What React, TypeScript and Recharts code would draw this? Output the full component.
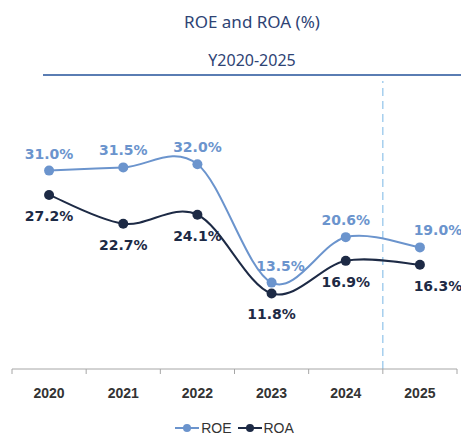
import React from 'react';
import { LineChart, Line, XAxis, YAxis, ReferenceLine, LabelList, Legend } from 'recharts';

const years = ['2020', '2021', '2022', '2023', '2024', '2025'];
const roe = [31.0, 31.5, 32.0, 13.5, 20.6, 19.0];
const roa = [27.2, 22.7, 24.1, 11.8, 16.9, 16.3];

const data = years.map((year, i) => ({ year, roe: roe[i], roa: roa[i] }));

const W = 461;
const H = 439;
const M = { top: 81, right: 4, left: 12, bottom: 0 };
const BAND = (W - M.left - M.right) / years.length;

const ROE_COLOR = '#6b94cd';
const ROA_COLOR = '#1d2a45';
const TITLE_FONT = "'Noto Sans', 'Open Sans', sans-serif";

// Excel-like smoothing (Catmull-Rom through the points)
const smoothCurve = (context: any) => {
    let pts: number[][] = [];
    return {
        areaStart() {},
        areaEnd() {},
        lineStart() { pts = []; },
        point(x: number, y: number) { pts.push([+x, +y]); },
        lineEnd() {
            if (!pts.length) return;
            context.moveTo(pts[0][0], pts[0][1]);
            for (let i = 0; i < pts.length - 1; i++) {
                const p0 = pts[i - 1] || pts[i];
                const p1 = pts[i];
                const p2 = pts[i + 1];
                const p3 = pts[i + 2] || p2;
                context.bezierCurveTo(
                    p1[0] + (p2[0] - p0[0]) / 6, p1[1] + (p2[1] - p0[1]) / 6,
                    p2[0] - (p3[0] - p1[0]) / 6, p2[1] - (p3[1] - p1[1]) / 6,
                    p2[0], p2[1]
                );
            }
        },
    };
};

const YearTick = (props: any) => {
    const { x, y, payload, index } = props;
    const left = x - BAND / 2;
    return (
        <g>
            <line x1={left} y1={y} x2={left} y2={y + 5} stroke="#a6a6a6" />
            {index === years.length - 1 && <line x1={x + BAND / 2} y1={y} x2={x + BAND / 2} y2={y + 5} stroke="#a6a6a6" />}
            <text x={x} y={y + 29} textAnchor="middle" fill="#333" fontSize={14} fontWeight="bold" fontFamily="'Liberation Sans', Arial, sans-serif">
                {payload.value}
            </text>
        </g>
    );
};

// label nudges so text clears the lines, as in the original
const makeLabel = (color: string, above: boolean) => (props: any) => {
    const { x, y, value, index } = props;
    let dx = index === years.length - 1 ? 18 : 0;
    if (above && index === 3) dx = 9;
    return (
        <text
            x={x + dx}
            y={above ? y - 12 : y + 26}
            textAnchor="middle"
            fill={color}
            fontSize={14}
            fontWeight="bold"
            fontFamily="'DejaVu Sans', Verdana, sans-serif"
        >
            {value.toFixed(1)}%
        </text>
    );
};

const LegendContent = () => (
    <div style={{ display: 'flex', justifyContent: 'center', alignItems: 'center', gap: 6, paddingTop: 3, lineHeight: '16px', fontFamily: "'Liberation Sans', Arial, sans-serif", fontSize: 14, color: '#333' }}>
        {[{ name: 'ROE', color: ROE_COLOR }, { name: 'ROA', color: ROA_COLOR }].map((s) => (
            <span key={s.name} style={{ display: 'flex', alignItems: 'center', gap: 2 }}>
                <svg width={24} height={10}>
                    <line x1={0} y1={5} x2={24} y2={5} stroke={s.color} strokeWidth={2} />
                    <circle cx={12} cy={5} r={4} fill={s.color} />
                </svg>
                {s.name}
            </span>
        ))}
    </div>
);

export default function App() {
    return (
        <div style={{ position: 'absolute', left: 0, top: 0, width: W, height: H, background: '#fff', overflow: 'hidden' }}>
            <div style={{ position: 'absolute', left: 0, top: 10, width: W, paddingLeft: 43, boxSizing: 'border-box', textAlign: 'center', fontFamily: TITLE_FONT, fontSize: 17, lineHeight: '24px', color: '#2e4374' }}>
                ROE and ROA (%)
            </div>
            <div style={{ position: 'absolute', left: 0, top: 48, width: W, paddingLeft: 43, boxSizing: 'border-box', textAlign: 'center', fontFamily: TITLE_FONT, fontSize: 16, lineHeight: '24px', color: '#2e4374' }}>
                Y2020-2025
            </div>
            <div style={{ position: 'absolute', left: 43, top: 74, width: W - 43, height: 2, background: '#5a7db3' }} />
            <LineChart width={W} height={H} data={data} margin={M}>
                <XAxis
                    dataKey="year"
                    scale="band"
                    height={48}
                    tickSize={0}
                    tickMargin={0}
                    tickLine={false}
                    axisLine={{ stroke: '#a6a6a6' }}
                    tick={<YearTick />}
                    interval={0}
                />
                <YAxis hide domain={[0, 45]} />
                <ReferenceLine x="2024" position="end" stroke="#8fc2ea" strokeDasharray="8 5" strokeWidth={1.2} />
                <Legend verticalAlign="bottom" height={22} content={<LegendContent />} />
                <Line type={smoothCurve as any} dataKey="roe" name="ROE" stroke={ROE_COLOR} strokeWidth={2} dot={{ r: 5, fill: ROE_COLOR, stroke: ROE_COLOR, strokeWidth: 0 }} isAnimationActive={false}>
                    <LabelList dataKey="roe" content={makeLabel(ROE_COLOR, true)} />
                </Line>
                <Line type={smoothCurve as any} dataKey="roa" name="ROA" stroke={ROA_COLOR} strokeWidth={2} dot={{ r: 5, fill: ROA_COLOR, stroke: ROA_COLOR, strokeWidth: 0 }} isAnimationActive={false}>
                    <LabelList dataKey="roa" content={makeLabel(ROA_COLOR, false)} />
                </Line>
            </LineChart>
        </div>
    );
}
